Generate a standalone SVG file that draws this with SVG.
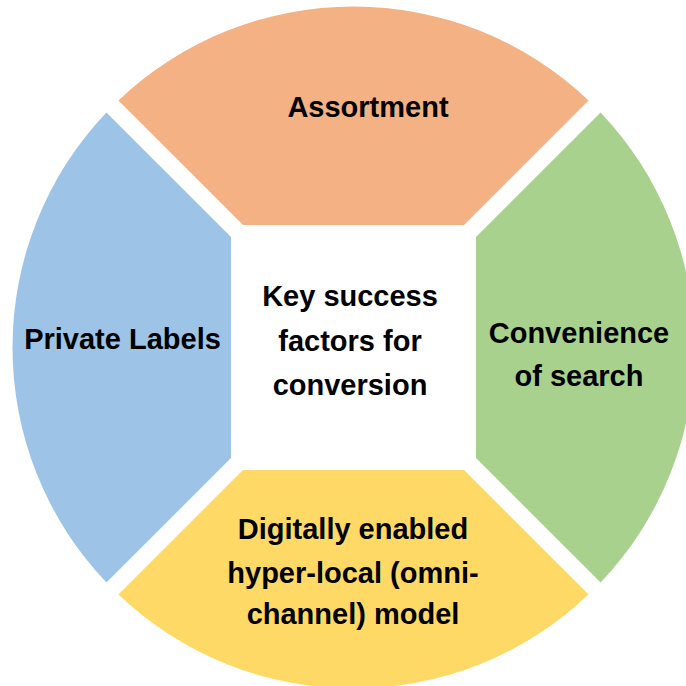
<svg xmlns="http://www.w3.org/2000/svg" width="686" height="686" viewBox="0 0 686 686">
  <style>
    .seg { stroke: none; }
    .lbl { font-family: "Liberation Sans", Arial, sans-serif; font-weight: bold; font-size: 29px; fill: #000000; text-anchor: middle; }
  </style>
  <rect width="686" height="686" fill="#ffffff"/>

  <!-- Circle of radius 341 centred at (353.5, 347.5), split into four segments around a central square -->
  <g id="assortment">
    <path class="seg" fill="#F4B183" d="M243,225 L118.45,100.45 A341,341 0 0 1 588.55,100.45 L464,225 Z"/>
    <text class="lbl" x="368" y="117">Assortment</text>
  </g>

  <g id="private-labels">
    <path class="seg" fill="#9DC3E6" d="M231,237 L106.45,112.45 A341,341 0 0 0 106.45,582.55 L231,458 Z"/>
    <text class="lbl" x="122.5" y="349">Private Labels</text>
  </g>

  <g id="convenience">
    <path class="seg" fill="#A9D18E" d="M476,237 L600.55,112.45 A341,341 0 0 1 600.55,582.55 L476,458 Z"/>
    <text class="lbl" x="579" y="343">Convenience</text>
    <text class="lbl" x="579" y="386">of search</text>
  </g>

  <g id="hyper-local">
    <path class="seg" fill="#FFD966" d="M243,470 L118.45,594.55 A341,341 0 0 0 588.55,594.55 L464,470 Z"/>
    <text class="lbl" x="353" y="539">Digitally enabled</text>
    <text class="lbl" x="353" y="583">hyper-local (omni-</text>
    <text class="lbl" x="353" y="624">channel) model</text>
  </g>

  <g id="key-factors">
    <text class="lbl" x="350" y="306">Key success</text>
    <text class="lbl" x="350" y="350.5">factors for</text>
    <text class="lbl" x="350" y="395">conversion</text>
  </g>

  <g id="connectors"/>
</svg>
